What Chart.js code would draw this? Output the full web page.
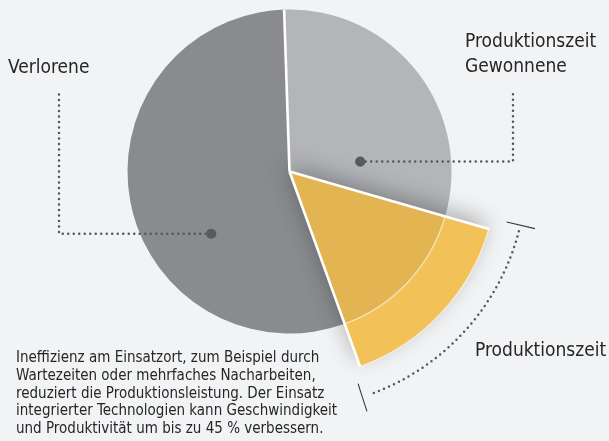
<!DOCTYPE html>
<html><head><meta charset="utf-8">
<script src="https://cdn.jsdelivr.net/npm/chart.js@4.4.1/dist/chart.umd.min.js"></script>
<style>
html,body{margin:0;padding:0;background:#f2f3f5;}
canvas{display:block;}
</style></head><body>
<canvas id="c" width="609" height="441"></canvas>
<script>
const categories = ['Produktionszeit Gewonnene', 'Produktionszeit', 'Verlorene'];
const shares = [30, 15, 55];
const innerColors = ['#b4b5b9', '#e3b452', '#8a8b8f'];
const outerColors = ['rgba(0,0,0,0)', '#f2c258', 'rgba(0,0,0,0)'];
const labelGewonnene = ['Produktionszeit', 'Gewonnene'];
const labelVerlorene = ['Verlorene'];
const labelProduktion = ['Produktionszeit'];
const paragraph = [
  'Ineffizienz am Einsatzort, zum Beispiel durch',
  'Wartezeiten oder mehrfaches Nacharbeiten,',
  'reduziert die Produktionsleistung. Der Einsatz',
  'integrierter Technologien kann Geschwindigkeit',
  'und Produktivität um bis zu 45 % verbessern.'
];

const FONT = '"DejaVu Sans Condensed", "Liberation Sans Narrow", sans-serif';
const INNER_R = 162, OUTER_R = 207.5;

function props(el){ return el.getProps(['x','y','startAngle','endAngle','outerRadius','innerRadius'], true); }
function polar(cx, cy, degCW, r){ const a = (degCW - 90) * Math.PI/180; return [cx + r*Math.cos(a), cy + r*Math.sin(a)]; }

const shadowPlugin = {
  id: 'wedgeShadow',
  beforeDatasetDraw(chart, args){
    if (args.index !== 0) return;
    const ctx = chart.ctx;
    const p = props(chart.getDatasetMeta(0).data[1]);
    const OFF = 3000;
    ctx.save();
    ctx.beginPath();
    ctx.rect(0, 0, chart.width, chart.height);
    ctx.moveTo(p.x, p.y);
    ctx.arc(p.x, p.y, p.outerRadius, p.startAngle, p.endAngle);
    ctx.closePath();
    ctx.clip('evenodd');
    ctx.shadowColor = 'rgba(0,0,0,0.3)';
    ctx.shadowBlur = 22;
    ctx.shadowOffsetX = OFF - 3;
    ctx.shadowOffsetY = -7;
    ctx.beginPath();
    ctx.moveTo(p.x - OFF, p.y);
    ctx.arc(p.x - OFF, p.y, p.outerRadius, p.startAngle, p.endAngle);
    ctx.closePath();
    ctx.fillStyle = '#000';
    ctx.fill();
    ctx.restore();
  }
};

const annotPlugin = {
  id: 'annot',
  afterDatasetsDraw(chart){
    const ctx = chart.ctx;
    const inner = chart.getDatasetMeta(1).data;
    const outerY = props(chart.getDatasetMeta(0).data[1]);
    const g = props(inner[0]);
    const cx = g.x, cy = g.y;
    // white separators
    ctx.save();
    ctx.strokeStyle = '#ffffff';
    ctx.lineWidth = 2.6;
    ctx.lineCap = 'butt';
    const seps = [[g.startAngle, g.outerRadius], [outerY.startAngle, outerY.outerRadius], [outerY.endAngle, outerY.outerRadius]];
    seps.forEach(([a, r]) => {
      ctx.beginPath();
      ctx.moveTo(cx, cy);
      ctx.lineTo(cx + r*Math.cos(a), cy + r*Math.sin(a));
      ctx.stroke();
    });
    ctx.restore();

    const DOT_COLOR = '#55575b';
    const dotted = (pts) => {
      ctx.save();
      ctx.strokeStyle = DOT_COLOR;
      ctx.lineWidth = 2.5;
      ctx.lineCap = 'round';
      ctx.setLineDash([0, 5.5]);
      ctx.beginPath();
      ctx.moveTo(pts[0][0], pts[0][1]);
      for (let i = 1; i < pts.length; i++) ctx.lineTo(pts[i][0], pts[i][1]);
      ctx.stroke();
      ctx.restore();
    };
    const dot = (x, y) => {
      ctx.save(); ctx.fillStyle = '#595a5e';
      ctx.beginPath(); ctx.arc(x, y, 5.1, 0, Math.PI*2); ctx.fill(); ctx.restore();
    };
    const dV = polar(cx, cy, 231.5, 100);
    dotted([dV, [59, dV[1]], [59, 94]]);
    dot(dV[0], dV[1]);
    const dG = polar(cx, cy, 82, 71.4);
    dotted([dG, [513, dG[1]], [513, 93]]);
    dot(dG[0], dG[1]);

    // arc bracket for yellow slice
    const a0 = outerY.startAngle, a1 = outerY.endAngle;
    const d2r = Math.PI/180;
    ctx.save();
    ctx.strokeStyle = DOT_COLOR;
    ctx.lineWidth = 2.5;
    ctx.lineCap = 'round';
    ctx.setLineDash([0, 5.5]);
    ctx.beginPath();
    ctx.arc(cx, cy, 237, a0 - 1.5*d2r, a1);
    ctx.stroke();
    ctx.restore();
    ctx.save();
    ctx.strokeStyle = '#3a3a3a';
    ctx.lineWidth = 1.1;
    [a0 - 3*d2r, a1 + 2*d2r].forEach(a => {
      ctx.beginPath();
      ctx.moveTo(cx + 223*Math.cos(a), cy + 223*Math.sin(a));
      ctx.lineTo(cx + 252*Math.cos(a), cy + 252*Math.sin(a));
      ctx.stroke();
    });
    ctx.restore();

    // labels
    ctx.save();
    ctx.fillStyle = '#262626';
    ctx.textBaseline = 'alphabetic';
    ctx.textAlign = 'left';
    ctx.font = '19px ' + FONT;
    ctx.fillText(labelVerlorene[0], 8, 73);
    ctx.fillText(labelGewonnene[0], 465, 47);
    ctx.fillText(labelGewonnene[1], 465, 72);
    ctx.fillText(labelProduktion[0], 475, 356);
    ctx.font = '15px ' + FONT;
    paragraph.forEach((line, i) => ctx.fillText(line, 16, 361.7 + 17.9*i));
    ctx.restore();
  }
};

new Chart(document.getElementById('c'), {
  type: 'pie',
  data: {
    labels: categories,
    datasets: [
      { data: shares, backgroundColor: outerColors,
        borderColor: ['rgba(0,0,0,0)', 'rgba(255,255,255,0.5)', 'rgba(0,0,0,0)'],
        borderWidth: 1.4, weight: OUTER_R - INNER_R },
      { data: shares, backgroundColor: innerColors, borderWidth: 0, weight: INNER_R }
    ]
  },
  options: {
    responsive: false,
    animation: false,
    events: [],
    rotation: -1.9,
    radius: OUTER_R,
    layout: { padding: { left: 0, top: 0, right: 30, bottom: 98 } },
    plugins: { legend: { display: false }, tooltip: { enabled: false } }
  },
  plugins: [shadowPlugin, annotPlugin]
});
</script>
</body></html>
